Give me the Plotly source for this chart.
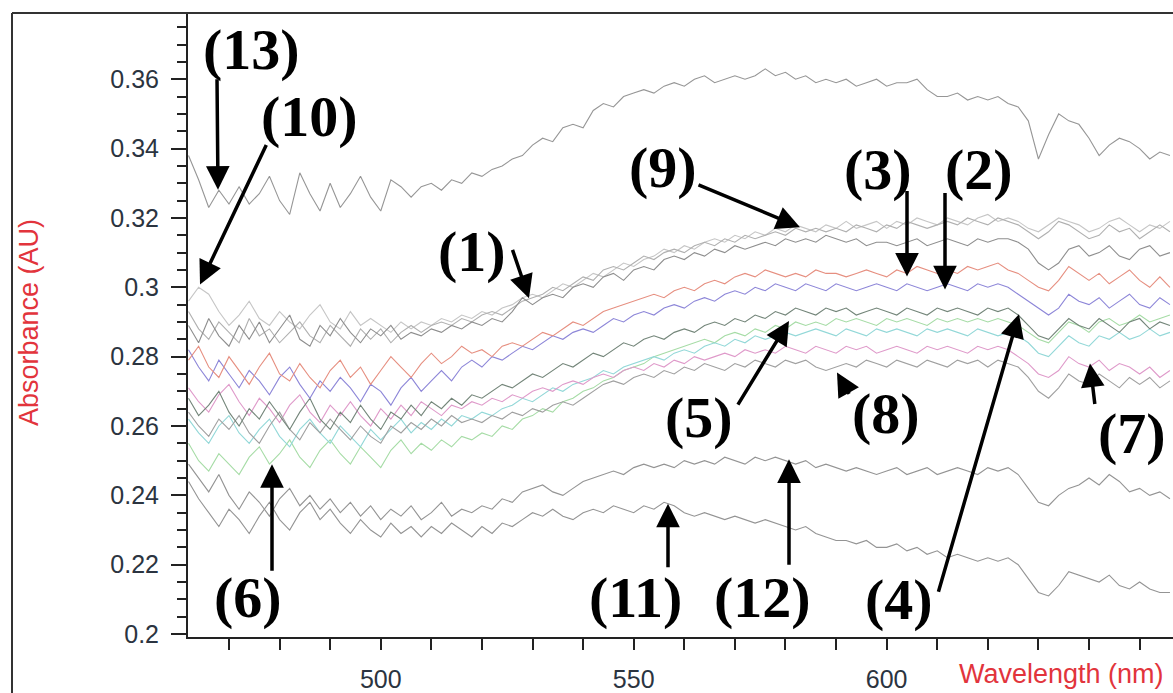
import plotly.graph_objects as go

wavelength = list(range(462, 657, 2))

curve13 = [0.338,0.331,0.323,0.328,0.324,0.329,0.324,0.327,0.332,0.325,
           0.321,0.333,0.327,0.322,0.330,0.323,0.327,0.332,0.326,0.322,
           0.331,0.329,0.326,0.329,0.330,0.328,0.331,0.330,0.333,0.332,
           0.334,0.335,0.337,0.338,0.341,0.343,0.342,0.346,0.347,0.346,
           0.351,0.353,0.352,0.355,0.356,0.357,0.356,0.358,0.359,0.358,
           0.360,0.361,0.359,0.360,0.361,0.360,0.361,0.363,0.361,0.362,
           0.360,0.361,0.359,0.360,0.359,0.360,0.358,0.359,0.360,0.358,
           0.359,0.359,0.360,0.357,0.355,0.355,0.356,0.354,0.355,0.354,
           0.355,0.353,0.352,0.348,0.337,0.344,0.350,0.348,0.347,0.343,
           0.338,0.341,0.343,0.342,0.340,0.337,0.339,0.338]

curve1 = [0.289,0.284,0.291,0.286,0.283,0.289,0.285,0.290,0.284,0.288,
          0.292,0.285,0.283,0.289,0.286,0.291,0.287,0.284,0.288,0.286,
          0.289,0.285,0.287,0.286,0.288,0.287,0.289,0.288,0.290,0.289,
          0.291,0.290,0.293,0.297,0.295,0.297,0.298,0.297,0.300,0.301,
          0.300,0.303,0.304,0.302,0.305,0.306,0.305,0.308,0.309,0.308,
          0.310,0.309,0.311,0.310,0.312,0.311,0.312,0.313,0.312,0.314,
          0.313,0.314,0.313,0.315,0.314,0.313,0.314,0.312,0.313,0.313,
          0.312,0.313,0.314,0.312,0.313,0.314,0.313,0.312,0.314,0.313,
          0.314,0.314,0.313,0.311,0.307,0.305,0.307,0.311,0.312,0.309,
          0.310,0.312,0.309,0.308,0.311,0.312,0.309,0.310]

curve9 = [0.293,0.288,0.285,0.290,0.287,0.284,0.291,0.286,0.288,0.284,
          0.287,0.290,0.286,0.284,0.289,0.286,0.283,0.288,0.285,0.288,
          0.284,0.287,0.289,0.287,0.289,0.290,0.289,0.291,0.290,0.292,
          0.293,0.292,0.294,0.296,0.297,0.298,0.300,0.299,0.301,0.303,
          0.302,0.305,0.306,0.305,0.307,0.309,0.308,0.310,0.311,0.310,
          0.312,0.313,0.312,0.314,0.313,0.315,0.314,0.315,0.316,0.315,
          0.317,0.316,0.317,0.316,0.317,0.316,0.318,0.317,0.316,0.318,
          0.317,0.319,0.318,0.317,0.318,0.319,0.318,0.320,0.319,0.318,
          0.320,0.319,0.318,0.316,0.314,0.316,0.319,0.318,0.316,0.314,
          0.315,0.318,0.316,0.317,0.314,0.316,0.318,0.316]

curve10 = [0.296,0.300,0.298,0.293,0.289,0.292,0.296,0.291,0.289,0.293,
           0.290,0.288,0.292,0.295,0.290,0.288,0.293,0.289,0.291,0.289,
           0.287,0.290,0.288,0.290,0.289,0.291,0.290,0.292,0.291,0.293,
           0.292,0.294,0.295,0.297,0.298,0.297,0.299,0.301,0.300,0.302,
           0.304,0.303,0.305,0.307,0.306,0.308,0.309,0.311,0.310,0.312,
           0.311,0.313,0.314,0.313,0.315,0.314,0.316,0.315,0.317,0.316,
           0.318,0.317,0.316,0.318,0.317,0.319,0.317,0.318,0.319,0.317,
           0.319,0.318,0.320,0.319,0.318,0.320,0.319,0.318,0.320,0.321,
           0.319,0.320,0.319,0.317,0.316,0.318,0.320,0.319,0.318,0.316,
           0.317,0.319,0.320,0.318,0.316,0.318,0.317,0.319]

curve3 = [0.279,0.283,0.277,0.274,0.280,0.276,0.272,0.277,0.281,0.275,
          0.273,0.278,0.274,0.271,0.276,0.279,0.274,0.277,0.272,0.276,
          0.280,0.277,0.274,0.278,0.281,0.278,0.280,0.283,0.281,0.282,
          0.280,0.283,0.284,0.283,0.285,0.287,0.286,0.288,0.290,0.289,
          0.291,0.293,0.294,0.295,0.296,0.297,0.298,0.297,0.299,0.300,
          0.299,0.301,0.302,0.301,0.303,0.304,0.303,0.305,0.304,0.303,
          0.304,0.303,0.305,0.304,0.304,0.303,0.304,0.305,0.304,0.303,
          0.305,0.304,0.306,0.305,0.304,0.305,0.304,0.306,0.305,0.306,
          0.307,0.305,0.304,0.302,0.300,0.299,0.302,0.306,0.304,0.302,
          0.304,0.301,0.303,0.305,0.302,0.300,0.303,0.300]

curve2 = [0.282,0.277,0.273,0.279,0.275,0.271,0.276,0.273,0.269,0.274,
          0.277,0.272,0.268,0.273,0.270,0.274,0.271,0.267,0.272,0.270,
          0.266,0.271,0.274,0.270,0.273,0.276,0.273,0.277,0.279,0.277,
          0.280,0.279,0.281,0.283,0.282,0.284,0.286,0.285,0.287,0.288,
          0.287,0.289,0.291,0.290,0.292,0.293,0.292,0.294,0.295,0.294,
          0.296,0.297,0.296,0.298,0.299,0.298,0.300,0.299,0.301,0.300,
          0.299,0.301,0.300,0.299,0.301,0.300,0.299,0.300,0.301,0.300,
          0.299,0.301,0.300,0.299,0.300,0.301,0.300,0.299,0.301,0.300,
          0.301,0.300,0.298,0.296,0.294,0.292,0.294,0.298,0.296,0.295,
          0.297,0.294,0.296,0.298,0.295,0.294,0.297,0.295]

curve4 = [0.268,0.263,0.266,0.270,0.264,0.260,0.265,0.262,0.267,0.263,
          0.259,0.264,0.268,0.262,0.259,0.264,0.261,0.266,0.262,0.259,
          0.264,0.262,0.266,0.263,0.267,0.265,0.268,0.266,0.269,0.268,
          0.270,0.272,0.271,0.273,0.275,0.274,0.276,0.278,0.277,0.279,
          0.281,0.280,0.282,0.284,0.283,0.285,0.286,0.285,0.287,0.288,
          0.287,0.289,0.290,0.289,0.291,0.290,0.292,0.291,0.293,0.292,
          0.294,0.293,0.292,0.294,0.293,0.294,0.292,0.293,0.294,0.293,
          0.292,0.294,0.293,0.292,0.294,0.293,0.294,0.293,0.292,0.294,
          0.293,0.294,0.292,0.289,0.286,0.285,0.288,0.291,0.289,0.288,
          0.291,0.289,0.287,0.290,0.291,0.288,0.290,0.289]

curve6 = [0.255,0.250,0.247,0.252,0.249,0.246,0.251,0.254,0.249,0.252,
          0.256,0.251,0.248,0.253,0.256,0.252,0.249,0.254,0.251,0.248,
          0.253,0.256,0.252,0.255,0.253,0.256,0.254,0.257,0.256,0.258,
          0.257,0.260,0.259,0.262,0.263,0.265,0.264,0.267,0.268,0.270,
          0.271,0.273,0.274,0.276,0.277,0.278,0.280,0.281,0.282,0.283,
          0.284,0.285,0.284,0.286,0.287,0.286,0.288,0.287,0.289,0.288,
          0.290,0.289,0.290,0.289,0.291,0.290,0.291,0.290,0.289,0.291,
          0.290,0.291,0.290,0.289,0.291,0.290,0.291,0.290,0.291,0.290,
          0.291,0.290,0.289,0.287,0.285,0.284,0.287,0.290,0.289,0.287,
          0.290,0.291,0.289,0.290,0.292,0.290,0.291,0.292]

curve5 = [0.262,0.258,0.255,0.260,0.263,0.258,0.255,0.259,0.262,0.257,
          0.254,0.259,0.262,0.258,0.255,0.260,0.257,0.254,0.259,0.256,
          0.259,0.262,0.258,0.261,0.259,0.262,0.260,0.263,0.262,0.264,
          0.263,0.265,0.266,0.268,0.267,0.269,0.271,0.270,0.272,0.273,
          0.274,0.276,0.275,0.277,0.278,0.279,0.280,0.279,0.281,0.282,
          0.281,0.283,0.284,0.283,0.285,0.284,0.286,0.285,0.286,0.287,
          0.286,0.287,0.288,0.287,0.286,0.288,0.287,0.286,0.288,0.287,
          0.288,0.287,0.286,0.288,0.287,0.288,0.287,0.286,0.288,0.287,
          0.286,0.287,0.286,0.284,0.281,0.280,0.283,0.286,0.284,0.283,
          0.286,0.285,0.287,0.285,0.286,0.288,0.286,0.287]

curve7 = [0.271,0.267,0.264,0.269,0.272,0.267,0.263,0.268,0.265,0.261,
          0.266,0.269,0.264,0.261,0.266,0.263,0.267,0.263,0.260,0.265,
          0.262,0.266,0.263,0.267,0.265,0.263,0.266,0.265,0.267,0.266,
          0.268,0.267,0.269,0.268,0.270,0.271,0.270,0.272,0.273,0.272,
          0.274,0.275,0.274,0.276,0.277,0.276,0.278,0.277,0.279,0.278,
          0.280,0.279,0.280,0.281,0.280,0.282,0.281,0.282,0.281,0.283,
          0.282,0.281,0.283,0.282,0.281,0.283,0.282,0.283,0.281,0.282,
          0.283,0.282,0.281,0.283,0.282,0.283,0.282,0.281,0.283,0.282,
          0.283,0.282,0.280,0.278,0.275,0.274,0.276,0.280,0.278,0.277,
          0.279,0.276,0.278,0.277,0.275,0.277,0.274,0.276]

curve8 = [0.264,0.260,0.257,0.262,0.259,0.263,0.258,0.255,0.260,0.264,
          0.259,0.256,0.261,0.258,0.262,0.259,0.256,0.260,0.257,0.255,
          0.260,0.258,0.261,0.259,0.262,0.260,0.263,0.261,0.262,0.261,
          0.263,0.262,0.264,0.263,0.265,0.264,0.266,0.267,0.266,0.268,
          0.270,0.272,0.273,0.272,0.274,0.275,0.274,0.276,0.275,0.277,
          0.276,0.278,0.277,0.276,0.278,0.277,0.279,0.278,0.277,0.279,
          0.278,0.279,0.277,0.276,0.277,0.278,0.277,0.279,0.278,0.277,
          0.279,0.278,0.277,0.279,0.278,0.277,0.279,0.278,0.279,0.277,
          0.279,0.278,0.277,0.274,0.270,0.268,0.271,0.275,0.273,0.272,
          0.275,0.273,0.271,0.274,0.272,0.274,0.271,0.273]

curve12 = [0.249,0.245,0.241,0.246,0.240,0.236,0.241,0.238,0.234,0.239,
           0.242,0.237,0.240,0.236,0.239,0.235,0.238,0.234,0.237,0.233,
           0.236,0.234,0.237,0.233,0.235,0.238,0.234,0.236,0.235,0.237,
           0.236,0.239,0.238,0.241,0.242,0.243,0.241,0.240,0.242,0.244,
           0.245,0.246,0.247,0.246,0.248,0.249,0.248,0.249,0.248,0.250,
           0.249,0.250,0.249,0.251,0.250,0.249,0.251,0.250,0.251,0.250,
           0.249,0.250,0.248,0.249,0.248,0.247,0.248,0.247,0.246,0.247,
           0.248,0.246,0.247,0.248,0.246,0.247,0.248,0.247,0.246,0.248,
           0.247,0.248,0.246,0.242,0.238,0.237,0.240,0.242,0.243,0.245,
           0.243,0.246,0.244,0.241,0.242,0.240,0.241,0.239]

curve11 = [0.244,0.239,0.235,0.231,0.236,0.233,0.229,0.234,0.238,0.233,
           0.230,0.235,0.238,0.233,0.236,0.232,0.229,0.233,0.230,0.228,
           0.232,0.229,0.231,0.228,0.231,0.229,0.232,0.230,0.228,0.231,
           0.229,0.232,0.231,0.233,0.235,0.234,0.236,0.234,0.233,0.235,
           0.236,0.235,0.237,0.236,0.235,0.237,0.236,0.238,0.237,0.235,
           0.234,0.235,0.234,0.233,0.234,0.233,0.232,0.233,0.232,0.231,
           0.230,0.231,0.229,0.228,0.227,0.227,0.226,0.227,0.225,0.225,
           0.226,0.224,0.225,0.223,0.224,0.222,0.223,0.222,0.221,0.222,
           0.221,0.222,0.220,0.216,0.212,0.211,0.214,0.218,0.217,0.216,
           0.215,0.217,0.214,0.213,0.215,0.213,0.212,0.212]

series = [
    ("(10)", curve10, "#c6c6c6"),
    ("(9)", curve9, "#b0b0b0"),
    ("(6)", curve6, "#a6dca6"),
    ("(5)", curve5, "#93d8d8"),
    ("(7)", curve7, "#df9aca"),
    ("(8)", curve8, "#a0a0a0"),
    ("(4)", curve4, "#74867a"),
    ("(2)", curve2, "#8d86d8"),
    ("(3)", curve3, "#e68f80"),
    ("(1)", curve1, "#8e8e8e"),
    ("(12)", curve12, "#949494"),
    ("(11)", curve11, "#949494"),
    ("(13)", curve13, "#969696"),
]

y_tickvals = [0.2, 0.22, 0.24, 0.26, 0.28, 0.3, 0.32, 0.34, 0.36]
y_ticktext = ["0.2", "0.22", "0.24", "0.26", "0.28", "0.3", "0.32", "0.34", "0.36"]
x_tickvals = [500, 550, 600, 650]
x_ticktext = ["500", "550", "600", ""]

fig = go.Figure()
for name, vals, col in series:
    fig.add_trace(go.Scatter(x=wavelength, y=vals, mode="lines", name=name,
                             line=dict(color=col, width=1.1), hoverinfo="skip"))

# layout geometry (pixels)
L, R, T, B = 188, 1173, 13, 645
def pxx(x):
    return (x - L) / (R - L)
def pyy(y):
    return (B - y) / (B - T)

labels = [("(13)", 251, 50), ("(10)", 309, 118), ("(9)", 663, 169), ("(3)", 878, 172),
          ("(2)", 979, 172), ("(1)", 472, 255), ("(5)", 699, 423), ("(8)", 886, 419),
          ("(7)", 1132, 439), ("(6)", 248, 605), ("(11)", 635, 605), ("(12)", 762, 605),
          ("(4)", 899, 607)]
arrows = [((217, 80), (218, 192)), ((267, 147), (200, 288)), ((697, 187), (800, 230)),
          ((907, 193), (907, 280)), ((945, 195), (945, 293)), ((512, 252), (529, 302)),
          ((737, 410), (789, 325)), ((850, 400), (837, 377)), ((1095, 410), (1090, 368)),
          ((272, 578), (272, 470)), ((668, 575), (668, 510)), ((789, 572), (789, 465)),
          ((938, 597), (1019, 318))]

annotations = []
for (tx, ty), (hx, hy) in arrows:
    annotations.append(dict(x=pxx(hx), y=pyy(hy), xref="paper", yref="paper",
                            ax=tx - hx, ay=ty - hy, text="", showarrow=True,
                            arrowhead=2, arrowsize=1.35, arrowwidth=3.5,
                            arrowcolor="black", standoff=0, startstandoff=0))
for txt, cx, cy in labels:
    annotations.append(dict(x=pxx(cx), y=pyy(cy), xref="paper", yref="paper",
                            text=txt, showarrow=False, xanchor="center", yanchor="middle",
                            font=dict(family="Liberation Serif", size=58, color="black",
                                      weight="bold")))
annotations.append(dict(x=pxx(29), y=pyy(327), xref="paper", yref="paper",
                        text="Absorbance (AU)", textangle=-90, showarrow=False,
                        xanchor="center", yanchor="middle",
                        font=dict(family="Liberation Sans", size=27, color="#e2343c")))
annotations.append(dict(x=pxx(957), y=pyy(682), xref="paper", yref="paper",
                        text="Wavelength (nm)", showarrow=False,
                        xanchor="left", yanchor="middle",
                        font=dict(family="Liberation Sans", size=27, color="#e2343c")))

shapes = [
    dict(type="line", xref="paper", yref="paper", x0=pxx(12), x1=pxx(12),
         y0=pyy(13), y1=pyy(720), line=dict(color="#333333", width=2)),
    dict(type="line", xref="paper", yref="paper", x0=pxx(12), x1=pxx(1190),
         y0=pyy(13), y1=pyy(13), line=dict(color="#333333", width=2)),
]

tickfont = dict(family="Liberation Sans", size=25, color="#2b3440")
fig.update_layout(
    width=1173, height=693,
    margin=dict(l=L, r=1173 - R, t=T, b=693 - B),
    paper_bgcolor="white", plot_bgcolor="white",
    showlegend=False,
    annotations=annotations, shapes=shapes,
    xaxis=dict(range=[461.9, 656.6], showgrid=False, zeroline=False,
               showline=True, linecolor="#222222", linewidth=2,
               ticks="outside", ticklen=11, tickwidth=1.5, tickcolor="#222222",
               tickvals=x_tickvals, ticktext=x_ticktext, tickfont=tickfont,
               ticklabelstandoff=8,
               minor=dict(dtick=10, tick0=0, ticks="outside", ticklen=11,
                          tickwidth=1.5, tickcolor="#222222", showgrid=False)),
    yaxis=dict(range=[0.19915, 0.3791], showgrid=False, zeroline=False,
               showline=True, linecolor="#222222", linewidth=2,
               ticks="outside", ticklen=15, tickwidth=1.5, tickcolor="#222222",
               tickvals=y_tickvals, ticktext=y_ticktext, tickfont=tickfont,
               ticklabelstandoff=7,
               minor=dict(dtick=0.005, tick0=0, ticks="outside", ticklen=9,
                          tickwidth=1.5, tickcolor="#222222", showgrid=False)),
)

fig.write_html("out.html")
